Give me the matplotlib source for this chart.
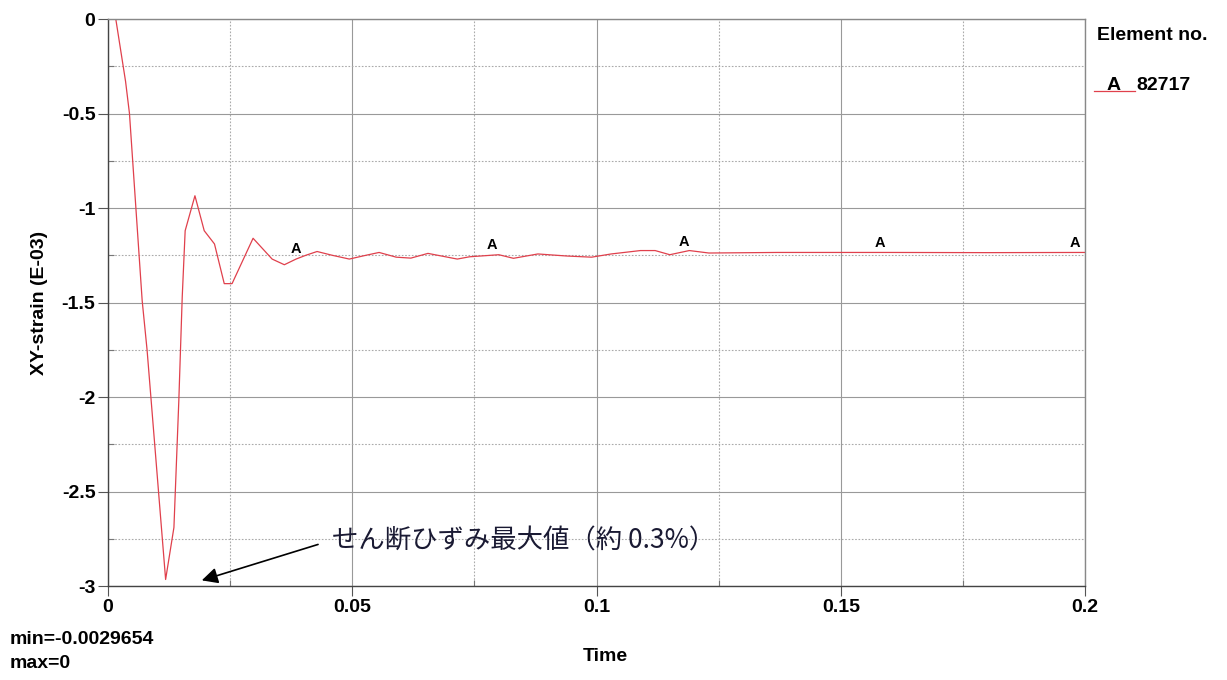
import numpy as np
import matplotlib
matplotlib.use("Agg")
import matplotlib.pyplot as plt
from matplotlib.ticker import MultipleLocator

# time history of element 82717, XY-strain in E-03
time = [0.0, 0.0016, 0.0036, 0.0044, 0.0070, 0.0080, 0.0118, 0.0135, 0.0145,
        0.0152, 0.0158, 0.0178, 0.0197, 0.0218, 0.0238, 0.0254, 0.0297, 0.0336,
        0.0361, 0.0385, 0.0405, 0.0428, 0.0459, 0.0494, 0.0528, 0.0555, 0.0590,
        0.0620, 0.0655, 0.0685, 0.0715, 0.0740, 0.0800, 0.0830, 0.0880, 0.0940,
        0.0990, 0.1030, 0.1090, 0.1120, 0.1150, 0.1190, 0.1230, 0.1370, 0.1600,
        0.1800, 0.2000]
strain = [0.0, 0.0, -0.33, -0.50, -1.49, -1.75, -2.9654, -2.69, -2.02,
          -1.47, -1.12, -0.935, -1.12, -1.19, -1.40, -1.40, -1.16, -1.27,
          -1.30, -1.27, -1.25, -1.23, -1.25, -1.27, -1.25, -1.235, -1.26,
          -1.265, -1.24, -1.255, -1.27, -1.258, -1.247, -1.266, -1.243, -1.254,
          -1.26, -1.243, -1.225, -1.225, -1.247, -1.225, -1.238, -1.235, -1.235,
          -1.236, -1.235]

label_times = [0.0385, 0.0787, 0.118, 0.158, 0.198]
element_id = "82717"
vmin_text = "min=-0.0029654"
vmax_text = "max=0"
note = "せん断ひずみ最大値（約 0.3%）"

plt.rcParams["font.family"] = ["Liberation Sans", "DejaVu Sans"]
fs = 14

fig = plt.figure(figsize=(12.27, 6.8), dpi=100)
ax = fig.add_axes([0.0880, 0.1382, 0.7963, 0.8338])

line_col = "#e0404c"
ax.plot(time, strain, color=line_col, lw=0.9)
for t in label_times:
    ax.text(t, np.interp(t, time, strain) + 0.015, "A", fontsize=10.5,
            fontweight="bold", ha="center", va="bottom")

ax.set_xlim(0, 0.2)
ax.set_ylim(-3, 0)
ax.xaxis.set_major_locator(MultipleLocator(0.05))
ax.xaxis.set_minor_locator(MultipleLocator(0.025))
ax.yaxis.set_major_locator(MultipleLocator(0.5))
ax.yaxis.set_minor_locator(MultipleLocator(0.25))
fmt = plt.FuncFormatter(lambda v, p: "0" if v == 0 else f"{v:g}")
ax.xaxis.set_major_formatter(fmt)
ax.yaxis.set_major_formatter(fmt)

ax.grid(which="major", color="#999999", lw=0.8, ls="-")
ax.grid(which="minor", color="#aaaaaa", lw=0.8, ls=(0, (1.5, 1.5)))
ax.tick_params(which="major", direction="out", length=7, width=0.8,
               color="#555555", labelsize=fs, pad=2)
ax.tick_params(which="minor", direction="in", length=4, width=0.8, color="#777777")
for lab in ax.get_xticklabels() + ax.get_yticklabels():
    lab.set_fontweight("bold")
for s in ax.spines.values():
    s.set_color("#888888")
    s.set_linewidth(1.0)
ax.spines["left"].set_color("#444444")
ax.spines["bottom"].set_color("#444444")

ax.set_ylabel("XY-strain (E-03)", fontsize=fs, fontweight="bold", labelpad=10)
fig.text(0.493, 0.034, "Time", fontsize=fs, fontweight="bold", ha="center", va="center")
fig.text(0.008, 0.059, vmin_text, fontsize=fs, fontweight="bold", va="center")
fig.text(0.008, 0.025, vmax_text, fontsize=fs, fontweight="bold", va="center")

# legend on the right
fig.text(0.894, 0.948, "Element no.", fontsize=fs, fontweight="bold", va="center")
fig.text(0.902, 0.875, "A", fontsize=fs, fontweight="bold", va="center")
fig.text(0.926, 0.875, element_id, fontsize=fs, fontweight="bold", va="center")
fig.add_artist(plt.Line2D([0.892, 0.925], [0.866, 0.866], color=line_col, lw=0.9))

ax.text(0.0459, -2.76, note, fontsize=19, color="#1a1a33", va="center", ha="left",
        family=["Noto Sans CJK JP", "DejaVu Sans"])
ax.annotate("", xy=(0.0192, -2.97), xytext=(0.0430, -2.78),
            arrowprops=dict(arrowstyle="-|>", color="black", lw=1.2,
                            mutation_scale=24, shrinkA=0, shrinkB=0))

fig.savefig("out.png", dpi=100, facecolor="white")
